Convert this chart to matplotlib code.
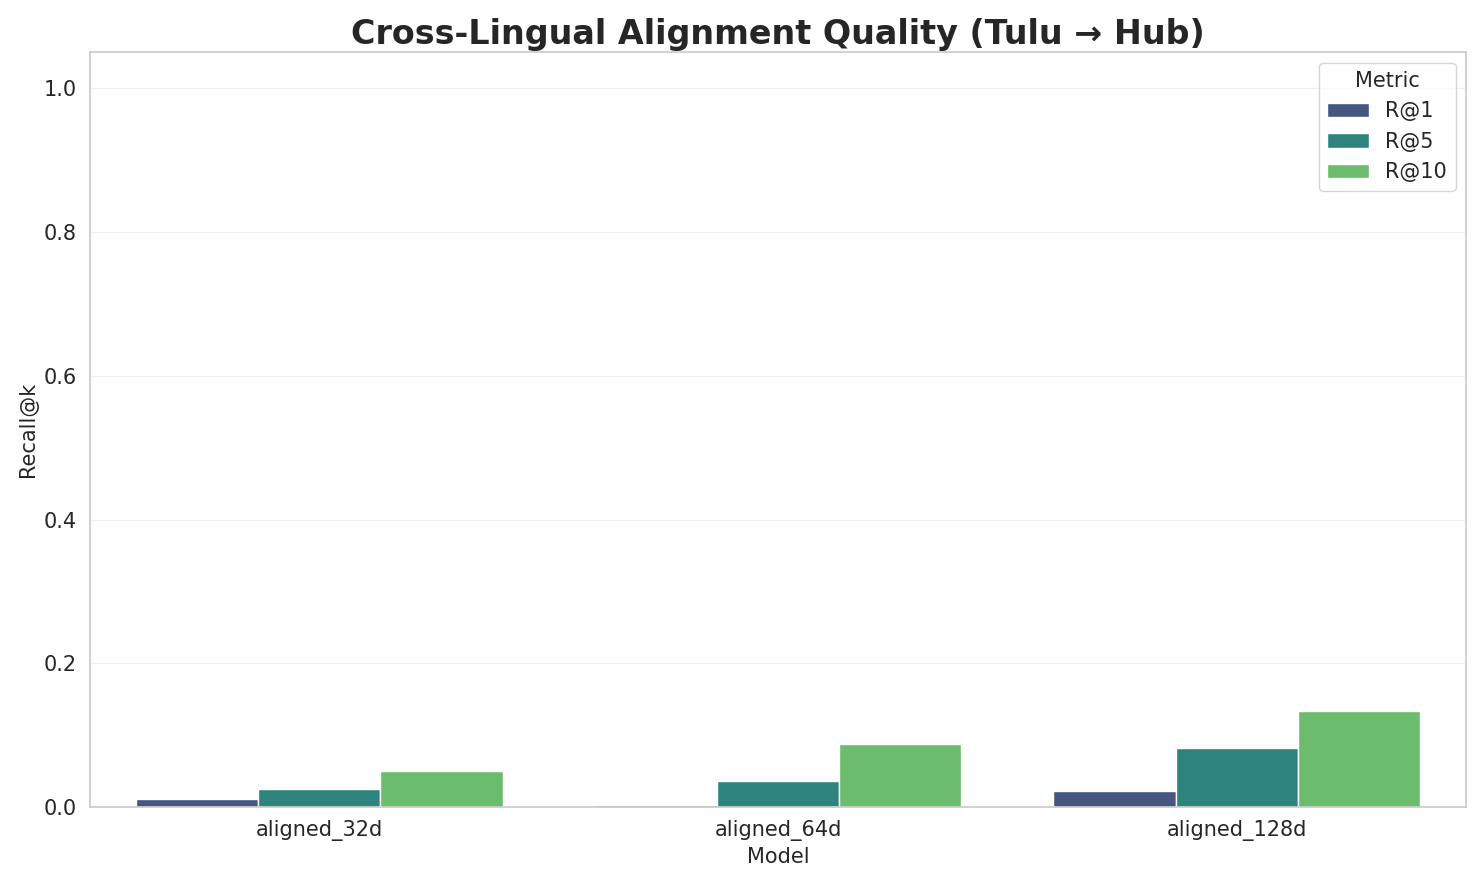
import matplotlib
matplotlib.use("Agg")
import matplotlib.pyplot as plt
import seaborn as sns
import pandas as pd

models = ["aligned_32d", "aligned_64d", "aligned_128d"]
metrics = ["R@1", "R@5", "R@10"]
r_at_1 = [0.011, 0.0035, 0.022]
r_at_5 = [0.026, 0.036, 0.082]
r_at_10 = [0.050, 0.088, 0.134]

rows = []
for i, m in enumerate(models):
    for metric, vals in zip(metrics, [r_at_1, r_at_5, r_at_10]):
        rows.append({"Model": m, "Metric": metric, "Recall@k": vals[i]})
df = pd.DataFrame(rows)

sns.set_theme(style="whitegrid")

fig, ax = plt.subplots(figsize=(14.84, 8.85), dpi=100)
sns.barplot(data=df, x="Model", y="Recall@k", hue="Metric", palette="viridis", ax=ax)
ax.set_ylim(0, 1.05)
ax.grid(axis="y", alpha=0.3)
ax.set_title("Cross-Lingual Alignment Quality (Tulu → Hub)", fontsize=24, fontweight="bold")
ax.set_xlabel("Model", fontsize=15)
ax.set_ylabel("Recall@k", fontsize=15)
ax.tick_params(labelsize=15)
ax.legend(title="Metric", loc="upper right", fontsize=15, title_fontsize=15)
plt.tight_layout()
plt.savefig("out.png", dpi=100)
